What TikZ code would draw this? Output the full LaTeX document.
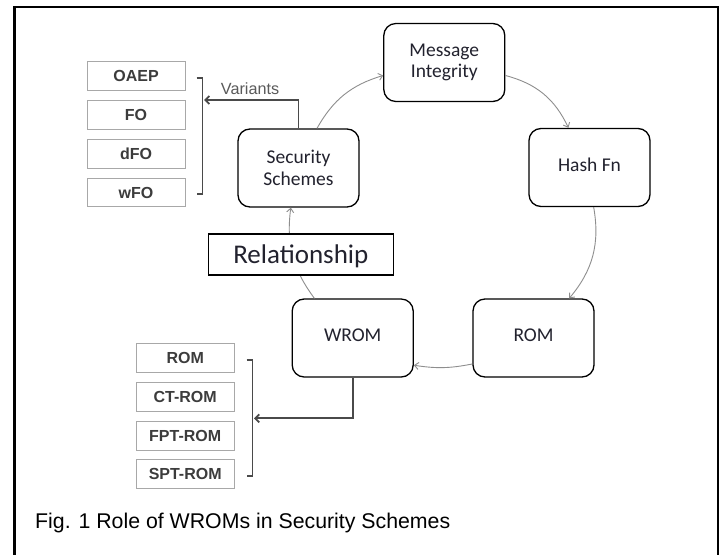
\documentclass[tikz,border=0pt]{standalone}
\usepackage{fontspec}
\setmainfont{Liberation Sans}
\newfontfamily\calfont{Carlito}
\newfontfamily\arfont{Liberation Sans}
\usetikzlibrary{arrows.meta}
\definecolor{boxgray}{HTML}{A8A8A8}
\definecolor{boxtext}{HTML}{3C3C3C}
\definecolor{brk}{HTML}{4A4A4A}
\definecolor{cyc}{HTML}{8E8E8E}
\definecolor{ntext}{HTML}{22222E}
\definecolor{varg}{HTML}{5A5A5A}
\begin{document}
\begin{tikzpicture}[x=1pt,y=-1pt,
  mainbox/.style={draw=black, line width=1.3pt, rounded corners=12pt, minimum width=121pt, minimum height=78pt, inner sep=0pt, font=\calfont\fontsize{19.5}{21.7}\selectfont, text=ntext, align=center},
  single/.style={text depth=6pt},
  smallbox/.style={draw=boxgray, line width=1pt, minimum width=98pt, minimum height=28.5pt, inner sep=0pt, font=\arfont\bfseries\fontsize{16}{18}\selectfont, text=boxtext},
  cycarrow/.style={draw=cyc, line width=0.9pt, -{Straight Barb[length=4pt,width=7pt]}, bend left=25},
  brack/.style={draw=brk, line width=1.8pt},
  brarrow/.style={draw=brk, line width=1.8pt, -{Straight Barb[length=4pt,width=8pt]}}
]
\useasboundingbox (0,0) rectangle (722,554);
\fill[white] (0,0) rectangle (722,554);
\draw[line width=2.5pt] (14.5,560) -- (14.5,7) -- (718,7) -- (718,560);

% main cycle nodes
\node[mainbox] (mi) at (444.3,62.5) {Message\\Integrity};
\node[mainbox] (ss) at (298.5,168) {Security\\Schemes};
\node[mainbox, single] (hf) at (589.5,167.5) {Hash Fn};
\node[mainbox, single] (wrom) at (352.7,338) {WROM};
\node[mainbox, single] (rom) at (533.5,338) {ROM};

% cycle arrows
\draw[cycarrow, bend left=22] (ss.65) to (mi.192);
\draw[cycarrow] (mi.-12) to (hf.118);
\draw[cycarrow] (hf.-84) to (rom.48);
\draw[cycarrow, bend left=10] (rom.203) to (wrom.-24);
\draw[cycarrow, bend left=22] (wrom.134) to (ss.259);

% relationship label box
\node[draw=black, line width=1.3pt, minimum width=185pt, minimum height=41pt, inner sep=0pt, fill=white, font=\calfont\fontsize{27}{30}\selectfont, text=ntext, text depth=0pt] (rel) at (300.8,254.5) {Relationship};

% variants group
\node[smallbox] (oaep) at (136,76.2) {OAEP};
\node[smallbox] (fo) at (136,115) {FO};
\node[smallbox] (dfo) at (136,153.8) {dFO};
\node[smallbox] (wfo) at (136,192.6) {wFO};
\draw[brack] (196.7,78.3) -- (202.5,78.3) -- (202.5,194) -- (196.7,194);
\coordinate (vt) at (204,100);
\draw[brarrow] (ss.north) |- (vt);
\node[anchor=base west, font=\arfont\fontsize{16.2}{18}\selectfont, text=varg, inner sep=0pt] (var) at (220.7,94) {Variants};

% model group
\node[smallbox] (rom2) at (185.2,357.8) {ROM};
\node[smallbox] (ctrom) at (185.2,397) {CT-ROM};
\node[smallbox] (fptrom) at (185.2,436.2) {FPT-ROM};
\node[smallbox] (sptrom) at (185.2,474) {SPT-ROM};
\draw[brack] (246.7,360) -- (252.5,360) -- (252.5,475.7) -- (246.7,475.7);
\coordinate (wt) at (254,418.3);
\draw[brarrow] (wrom.south) |- (wt);

% caption
\node[anchor=base west, font=\arfont\fontsize{21.3}{24}\selectfont, inner sep=0pt] (cap) at (35,528.3) {Fig. 1 Role of WROMs in Security Schemes};
\end{tikzpicture}
\end{document}
